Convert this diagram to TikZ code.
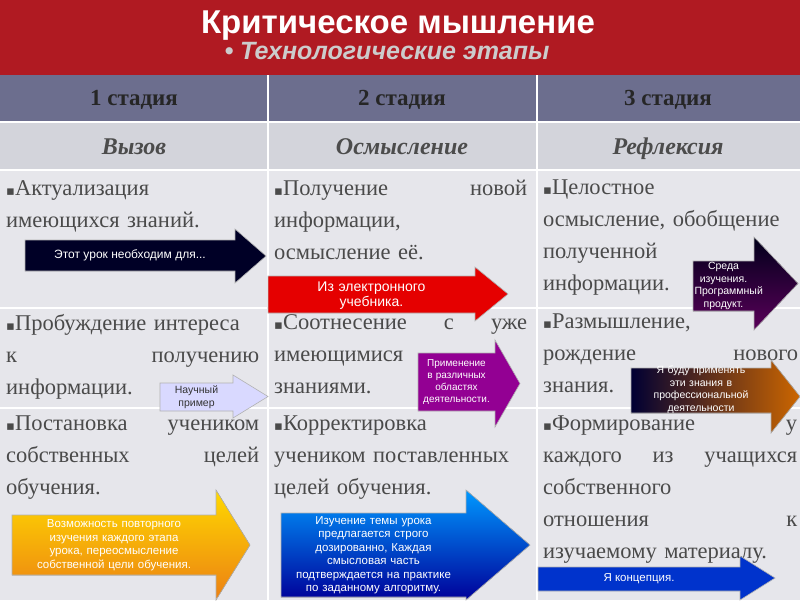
\documentclass[tikz,border=0pt]{standalone}
\usepackage{fontspec}
\setmainfont{Liberation Serif}
\newfontfamily\hsans{Liberation Sans}
\newfontfamily\dvs{DejaVu Sans}
\usetikzlibrary{positioning}
\newcommand{\bul}{{\dvs\fontsize{13}{13}\selectfont ▪}}
\definecolor{titlered}{HTML}{B01A22}
\definecolor{hdr}{HTML}{6C6E8E}
\definecolor{sub}{HTML}{D3D4DB}
\definecolor{cell}{HTML}{E6E6EB}
\definecolor{txt}{HTML}{4A4A4A}
\tikzset{
 celltxt/.style={anchor=north west,text width=#1,align=left,inner sep=0pt,text=txt,font=\fontsize{22.5}{32}\selectfont},
 hd/.style={font=\bfseries\fontsize{23}{25}\selectfont,text=black!85,anchor=base},
 sh/.style={font=\bfseries\itshape\fontsize{24}{27}\selectfont,text=black!70,anchor=base},
 atxt/.style={text=white,font=\hsans\fontsize{11.5}{13.5}\selectfont,align=center,inner sep=0pt},
 arr/.style={draw=white!70!black,line width=0.6pt}
}
\begin{document}
\begin{tikzpicture}[x=1pt,y=-1pt]
\useasboundingbox (0,0) rectangle (800,600);
\fill[titlered] (0,0) rectangle (800,75);
\fill[hdr] (0,75) rectangle (800,122);
\fill[sub] (0,122) rectangle (800,170);
\fill[cell] (0,170) rectangle (800,600);
\foreach \y in {122,170,308,408} \draw[white,line width=2pt] (0,\y) -- (800,\y);
\foreach \x in {268,537} \draw[white,line width=2pt] (\x,75) -- (\x,600);
\node[text=white,font=\hsans\bfseries\fontsize{33}{34}\selectfont] (t) at (398,26) {Критическое мышление};
\node[text=white!80!black,font=\hsans\bfseries\itshape\fontsize{25}{26}\selectfont] (st) at (387,51) {• Технологические этапы};
\node[hd] (h1) at (134,105) {1 стадия};
\node[hd] (h2) at (402,105) {2 стадия};
\node[hd] (h3) at (668,105) {3 стадия};
\node[sh] (s1) at (134,154) {Вызов};
\node[sh] (s2) at (402,154) {Осмысление};
\node[sh] (s3) at (668,154) {Рефлексия};
\node[celltxt=257pt] (c11) at (6,180) {\bul Актуализация\\ имеющихся знаний.};
\node[celltxt=253pt] (c12) at (274,180) {\bul Получение\hfill новой\\ информации,\\ осмысление её.};
\node[celltxt=255pt] (c13) at (543,180) {\bul Целостное\\ осмысление, обобщение\\ полученной\\ информации.};
\node[celltxt=253pt] (c21) at (6,314) {\bul Пробуждение интереса\\ к\hfill получению\\ информации.};
\node[celltxt=253pt] (c22) at (274,314) {\bul Соотнесение\hfill с\hfill уже\\ имеющимися\\ знаниями.};
\node[celltxt=255pt] (c23) at (543,314) {\bul Размышление,\\ рождение\hfill нового\\ знания.};
\node[celltxt=253pt] (c31) at (6,416) {\bul Постановка\hfill учеником\\ собственных\hfill целей\\ обучения.};
\node[celltxt=255pt] (c32) at (274,416) {\bul Корректировка\\ учеником поставленных\\ целей обучения.};
\node[celltxt=254pt] (c33) at (543,416) {\bul Формирование\hfill у\\ каждого\hfill из\hfill учащихся\\ собственного\\ отношения\hfill к\\ изучаемому материалу.};
\newcommand{\arrw}[9]{%
 \filldraw[arr,#8] (#1,#4) -- (#2,#4) -- (#2,#6) -- (#3,{(#6+#7)/2}) -- (#2,#7) -- (#2,#5) -- (#1,#5) -- cycle;
 \coordinate (#9) at ({(#1+#2)/2},{(#4+#5)/2});}
\arrw{25}{235}{266}{240}{271}{229}{283}{fill=black!85!blue}{a1}
\node[atxt,font=\hsans\fontsize{12}{13}\selectfont] at (a1) {Этот урок необходим для...};
\arrw{268}{475}{508}{276}{313}{267}{321}{fill=red!90!black}{a2}
\node[atxt,font=\hsans\fontsize{14}{15}\selectfont,text width=160pt] at ([yshift=-1]a2) {Из электронного учебника.};
\arrw{693}{754}{798}{261}{311}{237}{330}{top color=black!90!blue,bottom color=violet!70!black}{a3}
\node[atxt,font=\hsans\fontsize{10.5}{12.5}\selectfont,text width=58pt] at (a3) {Среда изучения. Программный продукт.};
\arrw{160}{233}{268}{383}{411}{375}{418}{fill=blue!15}{a4}
\node[atxt,text=black!80,font=\hsans\fontsize{10.5}{12.5}\selectfont,text width=60pt] at (a4) {Научный пример};
\arrw{418}{495}{520}{353}{411}{340}{427}{fill=violet!85!magenta}{a5}
\node[atxt,font=\hsans\fontsize{10}{12}\selectfont,text width=72pt] at (a5) {Применение в различных областях деятельности.};
\arrw{631}{771}{800}{368}{413}{360}{433}{left color=black!80!blue,right color=orange!80!black}{a6}
\node[atxt,font=\hsans\fontsize{10.5}{12.5}\selectfont,text width=135pt] at ([yshift=1]a6) {Я буду применять эти знания в профессиональной деятельности};
\arrw{12}{216}{250}{515}{575}{490}{600}{top color=yellow!70!orange,bottom color=orange!70!brown}{a7}
\node[atxt,text width=200pt] at (a7) {Возможность повторного изучения каждого этапа урока, переосмысление собственной цели обучения.};
\arrw{281}{466}{530}{513}{597}{490}{600}{top color=cyan!60!blue,bottom color=blue!60!black}{a8}
\node[atxt,text width=180pt] at (a8) {Изучение темы урока предлагается строго дозированно, Каждая смысловая часть подтверждается на практике по заданному алгоритму.};
\arrw{538}{740}{775}{567}{591}{556}{600}{fill=blue!75!cyan!80!black}{a9}
\node[atxt] at (a9) {Я концепция.};
\end{tikzpicture}
\end{document}
